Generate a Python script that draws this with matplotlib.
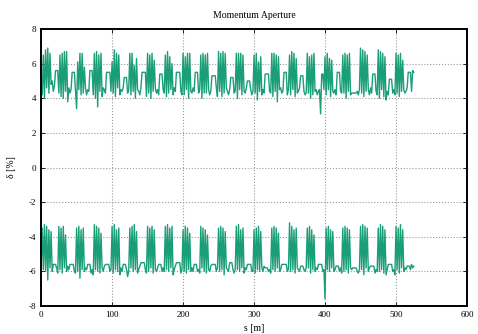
import matplotlib
matplotlib.use("Agg")
import matplotlib.pyplot as plt
import numpy as np

plt.rcParams['font.family'] = ['Liberation Serif', 'DejaVu Serif']
plt.rcParams['axes.unicode_minus'] = False

# momentum aperture, sampled every 25/16 m along the ring (21 cells of 25 m)
ds = 25.0 / 16

delta_pos = [
    5.5, 4.2, 6.5, 4.0, 6.8, 4.6, 6.9, 4.3, 6.6, 4.8, 5.0, 4.4, 4.7, 5.6, 5.6, 5.6,
    4.3, 6.5, 4.1, 6.6, 4.0, 6.7, 4.4, 6.7, 3.8, 4.6, 4.3, 4.5, 5.5, 5.5, 5.5, 4.4,
    3.4, 6.1, 4.5, 6.6, 4.2, 6.6, 4.3, 5.8, 4.6, 4.2, 4.5, 4.4, 5.6, 5.6, 5.6, 4.2,
    6.6, 4.0, 6.7, 3.5, 6.5, 4.4, 6.6, 4.1, 4.6, 4.5, 4.3, 5.5, 5.5, 5.5, 5.5, 4.4,
    6.1, 4.3, 6.8, 4.1, 6.6, 4.6, 6.5, 4.2, 4.5, 4.4, 4.6, 5.2, 5.2, 5.2, 4.3, 4.5,
    6.6, 4.2, 6.6, 4.4, 5.9, 4.0, 6.3, 4.5, 4.4, 4.2, 4.6, 5.5, 5.5, 5.5, 5.5, 4.1,
    6.6, 4.3, 6.5, 4.0, 6.6, 4.4, 6.2, 4.6, 4.3, 4.5, 4.2, 5.4, 5.4, 5.4, 4.5, 4.3,
    6.5, 4.1, 6.7, 4.3, 6.4, 4.5, 6.0, 4.2, 4.6, 4.4, 5.5, 5.5, 5.5, 5.5, 4.4, 4.2,
    6.6, 4.2, 6.4, 4.5, 6.6, 4.0, 6.6, 4.4, 4.3, 4.6, 4.4, 5.5, 5.5, 5.5, 4.3, 4.5,
    6.5, 4.0, 6.6, 4.3, 6.5, 4.3, 6.6, 4.5, 4.2, 4.4, 5.3, 5.3, 5.3, 5.3, 4.6, 4.1,
    6.7, 4.4, 6.6, 4.1, 6.7, 4.3, 6.6, 4.6, 4.4, 4.2, 4.5, 5.2, 5.2, 5.2, 4.3, 4.4,
    6.6, 4.0, 6.6, 4.5, 6.6, 4.2, 6.5, 4.4, 4.3, 4.6, 5.0, 5.0, 5.0, 4.5, 4.2, 4.4,
    6.5, 4.3, 6.6, 3.9, 6.1, 4.4, 6.4, 4.2, 4.5, 4.3, 5.4, 5.4, 5.4, 5.4, 4.4, 4.3,
    6.6, 4.1, 6.6, 4.4, 6.5, 3.8, 6.4, 4.5, 4.6, 4.3, 4.4, 5.5, 5.5, 5.5, 4.2, 4.5,
    6.5, 4.2, 6.7, 4.5, 6.6, 4.1, 6.3, 4.3, 4.4, 4.6, 5.3, 5.3, 5.3, 4.4, 4.2, 4.3,
    6.6, 4.3, 6.4, 4.0, 6.5, 4.2, 6.6, 4.4, 4.5, 4.2, 4.4, 4.5, 3.1, 5.4, 5.4, 4.5,
    6.4, 4.2, 6.6, 4.5, 6.3, 4.1, 6.2, 4.4, 4.3, 4.5, 4.2, 5.5, 5.5, 5.5, 4.4, 4.3,
    6.5, 4.3, 6.6, 4.0, 6.5, 4.4, 6.6, 4.2, 4.3, 4.3, 4.3, 4.3, 4.3, 4.4, 4.2, 4.5,
    6.9, 4.3, 6.8, 4.1, 6.7, 4.4, 6.5, 4.5, 4.2, 4.6, 4.3, 5.4, 5.4, 5.4, 4.4, 4.2,
    6.8, 4.0, 6.7, 4.5, 6.6, 4.1, 6.4, 3.9, 4.4, 4.2, 5.1, 5.1, 5.1, 4.3, 4.5, 4.2,
    6.6, 4.3, 6.5, 4.1, 6.6, 4.4, 6.2, 4.5, 4.3, 4.4, 4.6, 5.5, 5.5, 5.5, 4.4, 5.6,
    5.5,
]

delta_neg = [
    -5.7, -3.5, -5.9, -3.3, -6.0, -3.4, -6.5, -3.6, -5.8, -3.7, -6.0, -5.6, -5.6, -5.6, -5.8, -6.1,
    -3.4, -5.9, -3.5, -6.1, -3.4, -5.8, -3.9, -6.0, -5.7, -5.9, -5.6, -5.6, -5.6, -5.6, -6.0, -6.1,
    -3.5, -6.0, -3.4, -6.4, -3.6, -5.9, -3.5, -6.0, -5.8, -5.9, -5.6, -5.6, -5.6, -6.1, -5.9, -6.2,
    -3.3, -5.9, -3.4, -6.0, -3.5, -6.1, -3.8, -5.8, -6.0, -5.7, -5.6, -5.6, -5.6, -5.6, -6.0, -5.9,
    -3.4, -6.1, -3.3, -5.9, -3.6, -6.0, -3.5, -6.2, -5.8, -6.0, -5.6, -5.6, -5.6, -5.9, -6.3, -6.0,
    -3.5, -5.8, -3.4, -6.0, -3.3, -5.9, -3.7, -6.1, -5.9, -5.7, -5.5, -5.5, -5.5, -5.5, -5.9, -6.1,
    -3.4, -6.0, -3.5, -5.8, -3.4, -6.1, -3.6, -5.9, -6.0, -5.8, -5.6, -5.6, -5.6, -6.0, -5.8, -6.0,
    -3.4, -5.9, -3.3, -6.0, -3.5, -5.8, -3.4, -6.2, -5.9, -5.7, -5.5, -5.5, -5.5, -5.5, -6.1, -5.9,
    -3.6, -6.0, -3.4, -6.1, -3.5, -5.9, -3.8, -6.0, -5.8, -6.0, -5.6, -5.6, -5.6, -6.0, -5.9, -6.1,
    -3.4, -5.8, -3.5, -6.0, -3.6, -6.1, -3.9, -5.9, -6.0, -5.7, -5.6, -5.6, -5.6, -5.6, -6.0, -5.8,
    -3.5, -6.0, -3.4, -5.9, -3.5, -6.2, -3.7, -5.8, -5.9, -6.0, -5.5, -5.5, -5.5, -5.9, -6.1, -5.9,
    -3.4, -5.9, -3.3, -6.0, -3.6, -5.8, -3.5, -6.1, -5.8, -5.9, -5.6, -5.6, -5.6, -5.6, -6.0, -6.0,
    -3.6, -6.1, -3.5, -5.9, -3.4, -6.0, -3.7, -5.8, -6.0, -5.7, -5.8, -5.8, -5.8, -6.0, -5.9, -6.1,
    -3.5, -5.9, -3.4, -6.0, -3.5, -5.8, -3.8, -6.0, -5.9, -5.6, -5.6, -5.6, -5.6, -5.6, -6.0, -5.9,
    -3.2, -6.0, -3.4, -5.9, -3.6, -6.1, -3.5, -5.8, -5.9, -6.0, -5.7, -5.7, -5.7, -5.9, -6.0, -5.8,
    -3.5, -5.8, -3.4, -6.1, -3.6, -5.9, -3.9, -6.0, -5.8, -5.9, -5.6, -5.6, -5.6, -5.6, -6.0, -5.9,
    -7.6, -3.5, -5.9, -3.4, -6.0, -3.6, -5.8, -3.7, -6.0, -5.9, -5.7, -5.7, -5.7, -6.0, -5.8, -6.1,
    -3.5, -6.0, -3.4, -5.9, -3.5, -6.1, -3.6, -5.8, -5.9, -5.8, -5.8, -5.8, -5.8, -6.0, -6.1, -5.9,
    -3.4, -5.9, -3.3, -6.2, -3.4, -5.8, -3.5, -6.0, -5.8, -5.7, -5.7, -5.7, -5.7, -6.1, -5.9, -6.0,
    -3.5, -6.0, -3.3, -5.9, -3.4, -6.1, -3.6, -6.2, -5.9, -5.6, -5.6, -5.6, -5.6, -6.0, -5.9, -6.2,
    -3.4, -5.9, -3.5, -6.1, -3.3, -5.8, -3.6, -6.0, -5.8, -5.9, -5.7, -5.7, -5.7, -5.9, -5.6, -5.8,
    -5.7,
]

s = np.arange(len(delta_pos)) * ds

fig = plt.figure(figsize=(4.78, 3.34), dpi=100)
ax = fig.add_axes([0.086, 0.084, 0.891, 0.829])

color = '#1a9e77'
ax.plot(s, delta_pos, color=color, lw=1.0)
ax.plot(s, delta_neg, color=color, lw=1.0)

ax.set_xlim(0, 600)
ax.set_ylim(-8, 8)
ax.set_xticks(range(0, 601, 100))
ax.set_yticks(range(-8, 9, 2))
ax.grid(True, color='#999999', linestyle=':', linewidth=0.8)
ax.tick_params(direction='in', length=3, labelsize=6.5, width=0.6,
               top=True, right=True)
for sp in ax.spines.values():
    sp.set_linewidth(1.4)

ax.set_title('Momentum Aperture', fontsize=7, pad=8)
ax.set_xlabel('s [m]', fontsize=7, labelpad=4)
ax.set_ylabel('δ [%]', fontsize=7, labelpad=9)

fig.savefig('out.png', dpi=100)
